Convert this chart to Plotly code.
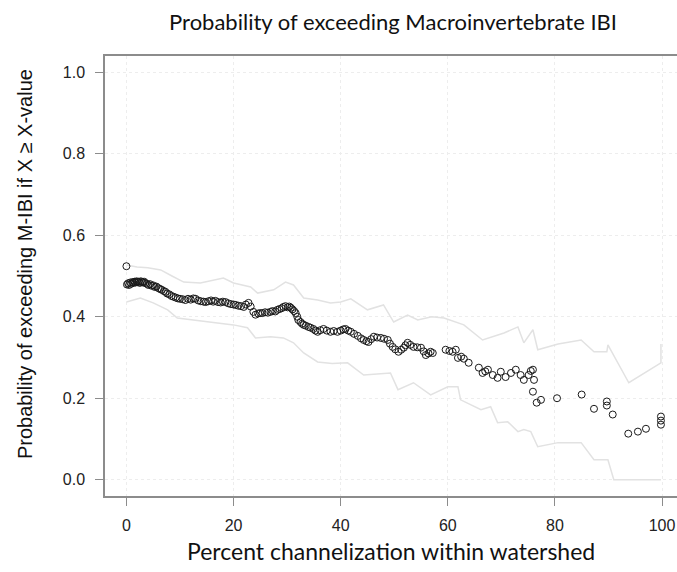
import plotly.graph_objects as go

# ---- data ----
x_pts = [0.0,
         0.1, 0.3, 0.5, 0.7, 0.9, 1.1, 1.3, 1.5, 1.7, 1.9, 2.1, 2.3, 2.5, 2.7, 2.9, 3.1, 3.3, 3.5,
         3.8, 4.1, 4.4, 4.7, 5.0, 5.3, 5.6, 6.0, 6.3, 6.6, 7.0, 7.3, 7.6, 8.0, 8.4, 8.8, 9.2, 9.6,
         10.0, 10.5, 11.0, 11.5, 12.0, 12.5, 12.9, 13.4, 13.9, 14.4, 14.8, 15.3, 15.8, 16.2, 16.6,
         17.1, 17.6, 18.0, 18.5, 19.0, 19.5, 20.0, 20.4, 20.9, 21.4, 21.9, 22.3, 22.8, 23.2, 23.7,
         24.1, 24.6, 25.0, 25.4, 25.9, 26.4, 26.9, 27.3, 27.8, 28.2, 28.6, 29.0, 29.3, 29.7, 30.1,
         30.4, 30.7, 31.0, 31.3, 31.6, 31.9, 32.1, 32.5, 32.8, 33.1, 33.5, 34.0, 34.4, 34.9, 35.3,
         35.7, 36.2, 36.8, 37.4, 38.1, 38.7, 39.4, 40.0, 40.5, 40.9, 41.4, 41.9, 42.5, 43.2, 43.8,
         44.3, 44.8, 45.2, 45.7, 46.2, 46.8, 47.5, 48.1, 48.8, 49.2, 49.7, 50.2, 50.8, 51.3, 51.8,
         52.1, 52.5, 53.0, 53.6, 54.3, 55.0, 55.5, 55.9, 56.4, 56.8, 57.2,
         59.6, 60.3, 60.9, 61.5, 61.9, 62.5, 63.0, 63.9, 65.8, 66.5, 67.0, 67.5, 68.4, 69.3, 69.9,
         70.8, 71.8, 72.7, 73.6, 74.2, 75.1, 75.5, 75.9, 76.1, 75.9, 76.6, 77.4,
         80.4, 85.0, 87.3, 89.7, 89.7, 90.8, 93.7, 95.5, 97.0, 99.8, 99.8, 99.8]
y_pts = [0.524,
         0.479, 0.482, 0.478, 0.484, 0.481, 0.485, 0.483, 0.486, 0.484, 0.487, 0.485, 0.486, 0.483, 0.487, 0.485, 0.484, 0.486, 0.483,
         0.481, 0.478, 0.480, 0.476, 0.477, 0.473, 0.474, 0.470, 0.468, 0.466, 0.463, 0.461, 0.457, 0.455, 0.451, 0.449, 0.447, 0.445,
         0.444, 0.443, 0.441, 0.444, 0.442, 0.445, 0.444, 0.440, 0.438, 0.437, 0.436, 0.438, 0.440, 0.437, 0.439,
         0.436, 0.435, 0.437, 0.436, 0.433, 0.431, 0.430, 0.429, 0.427, 0.426, 0.424, 0.430, 0.434, 0.425, 0.412,
         0.405, 0.408, 0.409, 0.409, 0.411, 0.410, 0.412, 0.414, 0.413, 0.417, 0.419, 0.421, 0.424, 0.426, 0.423,
         0.425, 0.422, 0.418, 0.414, 0.409, 0.400, 0.392, 0.387, 0.383, 0.380, 0.378, 0.375, 0.373, 0.370, 0.366,
         0.363, 0.367, 0.370, 0.366, 0.363, 0.365, 0.363, 0.366, 0.369, 0.370, 0.366, 0.363, 0.358, 0.353, 0.347,
         0.343, 0.340, 0.338, 0.345, 0.351, 0.349, 0.348, 0.346, 0.343, 0.334, 0.326, 0.320, 0.314, 0.319, 0.324,
         0.330, 0.336, 0.331, 0.326, 0.325, 0.324, 0.315, 0.306, 0.310, 0.314, 0.311,
         0.319, 0.316, 0.314, 0.319, 0.299, 0.302, 0.297, 0.287, 0.275, 0.262, 0.266, 0.270, 0.257, 0.250, 0.265,
         0.252, 0.262, 0.270, 0.257, 0.245, 0.257, 0.267, 0.270, 0.245, 0.216, 0.189, 0.196,
         0.200, 0.209, 0.174, 0.192, 0.182, 0.160, 0.113, 0.118, 0.125, 0.155, 0.145, 0.135]

upper_x = [0, 2, 4, 6.4, 8.5, 10.7, 13.8, 16, 18.1, 20, 23.2, 24.5, 27.5, 29.7, 31.2, 33.1, 35.7,
           38.1, 40, 41.9, 45, 48, 49.9, 52.5, 54.4, 57, 59.3, 63, 66.5, 70.5, 73.1, 74.2, 75.9,
           76.8, 80.6, 84.9, 87.3, 89.7, 89.9, 93.8, 99.8, 99.8]
upper_y = [0.527, 0.522, 0.520, 0.515, 0.500, 0.485, 0.483, 0.490, 0.495, 0.483, 0.473, 0.458,
           0.466, 0.485, 0.478, 0.446, 0.441, 0.434, 0.436, 0.444, 0.417, 0.429, 0.387, 0.404,
           0.392, 0.400, 0.397, 0.380, 0.343, 0.360, 0.375, 0.336, 0.368, 0.319, 0.333, 0.343,
           0.314, 0.314, 0.331, 0.238, 0.287, 0.333]

lower_x = [0, 2.6, 5, 7.7, 9.5, 12.5, 15.7, 20, 22.6, 24.1, 26.9, 29.3, 31.2, 33.1, 35.7, 38.4,
           41.3, 44.3, 49.3, 50.7, 53.6, 56.8, 60, 61.9, 62.4, 66.2, 68, 69.3, 71.2, 73.1, 74.2,
           75.5, 76.8, 80.6, 84.9, 87.3, 89.9, 91, 99.8]
lower_y = [0.436, 0.446, 0.434, 0.417, 0.397, 0.392, 0.387, 0.380, 0.373, 0.348, 0.351, 0.348,
           0.336, 0.311, 0.289, 0.285, 0.287, 0.257, 0.262, 0.221, 0.238, 0.208, 0.228, 0.228,
           0.196, 0.172, 0.179, 0.140, 0.142, 0.118, 0.123, 0.118, 0.081, 0.091, 0.091, 0.049,
           0.049, 0.0, 0.0]

x_ticks = [0, 20, 40, 60, 80, 100]
y_ticks = [0.0, 0.2, 0.4, 0.6, 0.8, 1.0]
y_tick_labels = ["0.0", "0.2", "0.4", "0.6", "0.8", "1.0"]

title_text = "Probability of exceeding Macroinvertebrate IBI"
x_title = "Percent channelization within watershed"
y_title = "Probability of exceeding M-IBI if X \u2265 X-value"

W, H = 677, 572

fig = go.Figure()
bound_line = dict(color="#e2e2e2", width=1.5)
fig.add_trace(go.Scatter(x=upper_x, y=upper_y, mode="lines", line=bound_line,
                         showlegend=False, hoverinfo="skip"))
fig.add_trace(go.Scatter(x=lower_x, y=lower_y, mode="lines", line=bound_line,
                         showlegend=False, hoverinfo="skip"))
fig.add_trace(go.Scatter(x=x_pts, y=y_pts, mode="markers",
                         marker=dict(symbol="circle-open", size=7, color="#1a1a1a",
                                     line=dict(width=1, color="#1a1a1a")),
                         showlegend=False))

axis_common = dict(showline=True, linecolor="#8c8c8c", linewidth=1.5,
                   ticks="outside", ticklen=8, tickcolor="#8c8c8c", tickwidth=1.2,
                   showgrid=True, gridcolor="#ededed", gridwidth=1, griddash="dot",
                   zeroline=False, automargin=False, ticklabeloverflow="allow",
                   tickfont=dict(family="Liberation Sans, Arial, sans-serif", size=16, color="#222222"))

# plot area runs to the right edge of the picture, as in the reference (no right border seen)
fig.update_xaxes(range=[-4, 102.8], tickvals=x_ticks, ticklabelstandoff=6, mirror=True,
                 **axis_common)
fig.update_yaxes(range=[-0.04, 1.04], tickvals=y_ticks, ticktext=y_tick_labels,
                 ticklabelstandoff=7, mirror=False, **axis_common)

fig.update_layout(
    width=W, height=H,
    margin=dict(l=105, r=0, t=56, b=76, autoexpand=False),
    paper_bgcolor="white", plot_bgcolor="white",
    title=dict(text=title_text, x=393 / W, xanchor="center", y=1 - 22 / H, yanchor="middle",
               yref="container",
               font=dict(family="Lato, sans-serif", size=22, color="#111111")),
    annotations=[
        dict(text=x_title, xref="paper", yref="paper", x=0.5, y=0, xanchor="center",
             yanchor="middle", yshift=-55, showarrow=False,
             font=dict(family="Lato, sans-serif", size=23, color="#111111")),
        dict(text=y_title, xref="paper", yref="paper", x=0, y=0.527, xanchor="center",
             yanchor="middle", xshift=-80, textangle=-90, showarrow=False,
             font=dict(family="Liberation Sans, Arial, sans-serif", size=20, color="#111111")),
    ],
)

# remove the page's default body margin so the figure fills the window exactly
fig.write_html("out.html",
               config={"displayModeBar": False},
               post_script="document.body.style.margin='0';document.body.style.overflow='hidden';")
